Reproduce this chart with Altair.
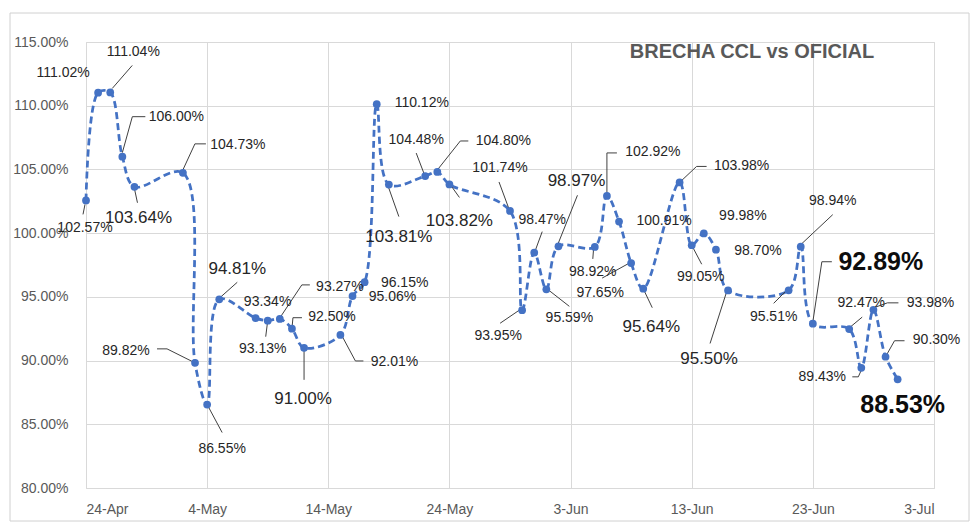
import altair as alt
import pandas as pd

# ---------------- data ----------------
dates = [
    "2023-04-24", "2023-04-25", "2023-04-26", "2023-04-27", "2023-04-28",
    "2023-05-02", "2023-05-03", "2023-05-04", "2023-05-05",
    "2023-05-08", "2023-05-09", "2023-05-10", "2023-05-11", "2023-05-12",
    "2023-05-15", "2023-05-16", "2023-05-17", "2023-05-18", "2023-05-19",
    "2023-05-22", "2023-05-23", "2023-05-24",
    "2023-05-29", "2023-05-30", "2023-05-31", "2023-06-01", "2023-06-02",
    "2023-06-05", "2023-06-06", "2023-06-07", "2023-06-08", "2023-06-09",
    "2023-06-12", "2023-06-13", "2023-06-14", "2023-06-15", "2023-06-16",
    "2023-06-21", "2023-06-22", "2023-06-23",
    "2023-06-26", "2023-06-27", "2023-06-28", "2023-06-29", "2023-06-30",
]
values = [
    102.57, 111.02, 111.04, 106.00, 103.64,
    104.73, 89.82, 86.55, 94.81,
    93.34, 93.13, 93.27, 92.50, 91.00,
    92.01, 95.06, 96.15, 110.12, 103.81,
    104.48, 104.80, 103.82,
    101.74, 93.95, 98.47, 95.59, 98.97,
    98.92, 102.92, 100.91, 97.65, 95.64,
    103.98, 99.05, 99.98, 98.70, 95.50,
    95.51, 98.94, 92.89,
    92.47, 89.43, 93.98, 90.30, 88.53,
]
x_ticks = ["2023-04-24", "2023-05-04", "2023-05-14", "2023-05-24",
           "2023-06-03", "2023-06-13", "2023-06-23", "2023-07-03"]
y_ticks = [80, 85, 90, 95, 100, 105, 110, 115]
title_text = "BRECHA CCL vs OFICIAL"

# ---------------- label placement (pixel offsets from each point) ----------------
label_dx = [-1, -35, 23, 54, 4, 55, -69, 15, 18, 12, -5, 60, 40, -1, 54, 40, 40, 45, 10,
            -9, 66, 10, -10, -24, 8, 23, 18, -2, 46, 45, -31, 8, 62, 9, 39, 42, -19,
            -15, 32, 68, 12, -39, 57, 51, 5]
label_dy = [28, -20, -40, -40, 31, -28, -12, 44, -30, -16, 28, -32, -12, 51, 27, 1, 1, -1, 52,
            -36, -31, 37, -43, 26, -33, 29, -65, 25, -44, -1, 30, 38, -16, 32, -17, 1, 69,
            27, -46, -62, -26, 9, -7, -17, 26]
# s = small, m = medium, b = big bold
label_kind = ["s", "s", "s", "s", "m", "s", "s", "s", "m", "s", "s", "s", "s", "m", "s", "s", "s", "s", "m",
              "s", "s", "m", "s", "s", "s", "s", "m", "s", "s", "s", "s", "m", "s", "s", "s", "s", "m",
              "s", "s", "b", "s", "s", "s", "s", "b"]
leaders = [
    [(-1, 4), (-3, 14)], [], [(2, -4), (22, -27)], [(0, -4), (10, -40), (23, -40)],
    [(0, 2), (3, 16)], [(0, -3), (12, -29), (23, -29)], [(-38, -14), (-28, -14), (-2, -1)],
    [(0, 0), (15, 28)], [(0, -1), (18, -17)], [], [(0, 0), (-2, 16)],
    [(0, -1), (22, -34), (30, -34)], [(0, 0), (1, -11), (10, -11)], [(0, 0), (0, 32)],
    [(0, -2), (15, 26), (23, 26)], [], [], [], [(-2, -2), (10, 32)],
    [(-1, -2), (-9, -23)], [(0, -2), (23, -31), (31, -31)], [(0, -1), (10, 13)],
    [(-1, -2), (-11, -29)], [(0, -2), (-22, 13)], [(1, -2), (8, -21)], [(0, -1), (23, 17)],
    [(-1, -1), (19, -51)], [(-1, -1), (-2, 12)], [(0, -3), (0, -43), (10, -43)], [],
    [(0, -1), (-29, 15)], [(-1, -2), (9, 19)], [(0, 0), (17, -16), (27, -16)], [(0, 0), (10, 19)],
    [], [], [(-1, 0), (-18, 53)], [(0, -2), (-15, 13)], [(0, -2), (32, -32)],
    [(0, -2), (9, -62), (19, -62)], [(1, -2), (13, -12)], [(-9, 9), (-3, 9), (1, 0)],
    [(0, -2), (14, -7), (25, -7)], [(0, 0), (9, -16), (19, -16)], [],
]

W, H = 848, 446
X0, X1 = pd.Timestamp("2023-04-24"), pd.Timestamp("2023-07-03")
Y0, Y1 = 80, 115
PX_DAY = W / ((X1 - X0).days)
PX_PCT = H / (Y1 - Y0)


def shift(date, v, dx, dy):
    t = pd.Timestamp(date) + pd.Timedelta(days=dx / PX_DAY)
    return t.strftime("%Y-%m-%dT%H:%M:%S"), v - dy / PX_PCT


def fmt(v):
    return f"{v:.2f}%"


pts = pd.DataFrame({"date": [d + "T00:00:00" for d in dates], "v": values})

lab_rows = []
for d, v, dx, dy, k in zip(dates, values, label_dx, label_dy, label_kind):
    lx, ly = shift(d, v, dx, dy)
    lab_rows.append({"date": lx, "v": ly, "txt": fmt(v), "kind": k})
labs = pd.DataFrame(lab_rows)

lead_rows = []
for i, (d, v, segs) in enumerate(zip(dates, values, leaders)):
    for j, (dx, dy) in enumerate(segs):
        lx, ly = shift(d, v, dx, dy)
        lead_rows.append({"id": i, "ord": j, "date": lx, "v": ly})
lead = pd.DataFrame(lead_rows)


def dt(s):
    t = pd.Timestamp(s)
    return alt.DateTime(year=t.year, month=t.month, date=t.day)


x_scale = alt.Scale(domain=[dt("2023-04-24"), dt("2023-07-03")])
y_scale = alt.Scale(domain=[Y0, Y1], nice=False, zero=False)

x_enc = alt.X("date:T", scale=x_scale, title=None,
              axis=alt.Axis(values=[dt(s) for s in x_ticks], format="%-d-%b",
                            labelFont="Liberation Sans", labelFontSize=14, labelColor="#595959",
                            labelPadding=14, domain=False, ticks=False,
                            gridColor="#d9d9d9", gridWidth=1))
y_enc = alt.Y("v:Q", scale=y_scale, title=None,
              axis=alt.Axis(values=y_ticks, labelExpr="format(datum.value, '.2f') + '%'",
                            labelFont="Liberation Sans", labelFontSize=14, labelColor="#595959",
                            labelPadding=18, domain=False, ticks=False,
                            gridColor="#d9d9d9", gridWidth=1))

x_plain = alt.X("date:T", scale=x_scale)
y_plain = alt.Y("v:Q", scale=y_scale)

BLUE = "#4472C4"

line = alt.Chart(pts).mark_line(interpolate="catmull-rom", strokeDash=[7, 4],
                                strokeWidth=2.75, color=BLUE).encode(x=x_enc, y=y_enc)
dots = alt.Chart(pts).mark_circle(size=60, color=BLUE, opacity=1).encode(x=x_plain, y=y_plain)

leader_lines = alt.Chart(lead).mark_line(color="#404040", strokeWidth=1).encode(
    x=x_plain, y=y_plain, detail="id:N", order="ord:Q")

small = alt.Chart(labs).transform_filter("datum.kind == 's'").mark_text(
    font="Liberation Sans", fontSize=14, color="#262626", baseline="middle", align="center"
).encode(x=x_plain, y=y_plain, text="txt:N")
medium = alt.Chart(labs).transform_filter("datum.kind == 'm'").mark_text(
    font="Liberation Sans", fontSize=17, color="#262626", baseline="middle", align="center"
).encode(x=x_plain, y=y_plain, text="txt:N")
big = alt.Chart(labs).transform_filter("datum.kind == 'b'").mark_text(
    font="Liberation Sans", fontSize=25, fontWeight="bold", color="#0d0d0d",
    baseline="middle", align="center"
).encode(x=x_plain, y=y_plain, text="txt:N")

title = alt.Chart(pd.DataFrame({"t": [title_text]})).mark_text(
    font="Liberation Sans", fontSize=20, fontWeight="bold", color="#595959",
    baseline="middle", align="center"
).encode(x=alt.value(666), y=alt.value(10), text="t:N")

frame = alt.Chart(pd.DataFrame({"a": [0]})).mark_rect(
    fill=None, fillOpacity=0, stroke="#d0d0d0", strokeWidth=1
).encode(x=alt.value(-76), x2=alt.value(883), y=alt.value(-29), y2=alt.value(479))

chart = alt.layer(frame, line, leader_lines, dots, small, medium, big, title).properties(
    width=W, height=H,
    autosize=alt.AutoSizeParams(type="none"),
    padding={"left": 86, "top": 42, "right": 46, "bottom": 44},
    background="white",
).configure_view(stroke="#d9d9d9", strokeWidth=1)

chart.save("out.html", embed_options={"renderer": "svg", "actions": False})
